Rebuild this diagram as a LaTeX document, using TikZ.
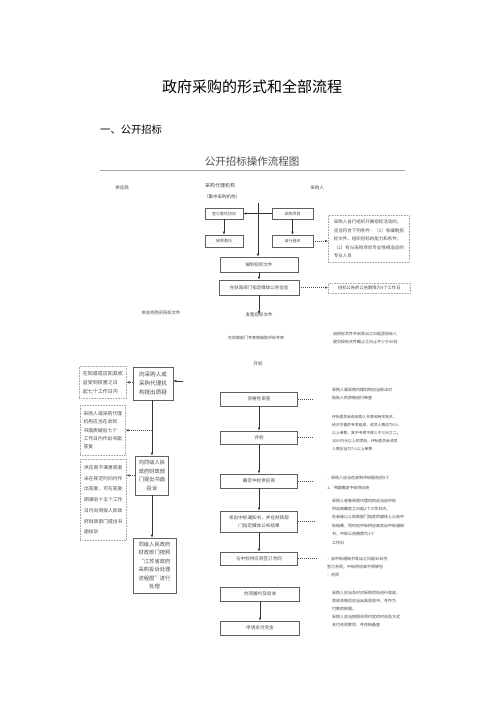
\documentclass[tikz,border=0pt]{standalone}
\usepackage{fontspec}
\setmainfont{Noto Sans CJK SC}
\usetikzlibrary{arrows.meta}
\newcommand{\fsz}[2]{\fontsize{#1}{#2}\selectfont}
\begin{document}
\begin{tikzpicture}[x=1pt,y=-1pt,
  box/.style={draw=gray!75!black, line width=0.7pt, inner sep=0pt, align=center, text=gray!60!black},
  dbox/.style={draw=gray!70, dash pattern=on 0.8pt off 0.8pt, line width=0.6pt, inner sep=2pt, align=left, text=gray!60!black, anchor=north west},
  arr/.style={-{Latex[length=3pt,width=2.6pt]}, line width=0.6pt, draw=black!80},
  darr/.style={-{Latex[length=3pt,width=2.6pt]}, line width=0.5pt, dash pattern=on 1pt off 1pt, draw=gray!60!black},
  dline/.style={line width=0.5pt, dash pattern=on 1pt off 1pt, draw=gray!60!black},
  note/.style={align=left, inner sep=0pt, text=gray!50!black, anchor=north west},
  lbl/.style={inner sep=0pt, text=gray!55!black},
]
\useasboundingbox (0,0) rectangle (500,707);
\fill[white] (0,0) rectangle (500,707);

% titles
\node[inner sep=0pt, font=\fsz{15}{18}] (title) at (252,87) {政府采购的形式和全部流程};
\node[inner sep=0pt, anchor=west, font=\fsz{10.3}{12}] (sec) at (100,130) {一、公开招标};
\node[inner sep=0pt, font=\fsz{10.5}{12}, text=gray!60!black] (sub) at (252,162) {公开招标操作流程图};
\coordinate (la) at (100,170);
\coordinate (lb) at (405,170);
\draw[gray!70, line width=0.6pt] (la) -- (lb);

% column headers
\node[lbl, font=\fsz{4.5}{6}] (h1) at (122,188) {供应商};
\node[lbl, font=\fsz{5}{6}] (h2) at (220,186) {采购代理机构};
\node[lbl, font=\fsz{4.5}{6}] (h2b) at (222,197) {（集中采购机构）};
\node[lbl, font=\fsz{4.5}{6}] (h3) at (317,188) {采购人};

% top boxes
\node[box, font=\fsz{4}{5}, minimum width=38, minimum height=11] (wt) at (224,213.5) {签订委托协议};
\node[box, font=\fsz{4}{5}, minimum width=41, minimum height=11] (xm) at (292.5,213.5) {采购项目};
\node[box, font=\fsz{4}{5}, minimum width=38, minimum height=12] (js) at (224,241) {接受委托};
\node[box, font=\fsz{4}{5}, minimum width=41, minimum height=12] (zx) at (292.5,241) {自行组织};
\node[box, font=\fsz{4.5}{6}, minimum width=78, minimum height=15] (bz) at (259,264.5) {编制招标文件};
\node[box, font=\fsz{4.5}{6}, minimum width=80, minimum height=15] (gg) at (259,287.5) {在财政部门指定媒体公告信息};

\node[dbox, font=\fsz{4.5}{8.5}, minimum width=81, minimum height=47] (d1) at (328,215)
 {采购人自行组织开展招标活动的，\\应当符合下列条件：（1）有编制招\\标文件、组织招标的能力和条件；\\（2）有与采购项目专业性相适应的\\专业人员};
\node[dbox, font=\fsz{4.3}{6}, minimum width=82, minimum height=10, align=left] (d2) at (328,283) {招标公告的公告期限为5个工作日};

\coordinate (vt) at (258,203);
\draw[arr] (xm.west) -- (wt.east);
\draw[arr] (wt.south) -- (js.north);
\draw[arr] (xm.south) -- (zx.north);
\draw[arr] (vt) -- (vt |- bz.north);
\draw[darr] (zx.east) -- (zx.east -| d1.west);
\draw[arr] (bz.south) -- (gg.north);
\draw[darr] (gg.east) -- (gg.east -| d2.west);

% middle texts
\node[lbl, font=\fsz{4.5}{6}] (fs) at (259,315) {发售招标文件};
\draw[arr] (gg.south) -- ([yshift=-1.5pt]fs.north);
\node[lbl, font=\fsz{4.3}{6}] (gm) at (161,313) {供应商购买招标文件};
\node[lbl, font=\fsz{4}{6}] (zj) at (256,338) {在财政部门专家库抽取评标专家};
\node[note, font=\fsz{4}{8}] (n0) at (333,332) {自招标文件开始发出之日起至投标人\\提交投标文件截止之日止不少于20日};
\node[lbl, font=\fsz{4.5}{6}] (kb) at (258,364) {开标};

% left column
\node[dbox, font=\fsz{5}{9}, minimum width=47, minimum height=32] (da) at (79,366)
 {在知道或应知其权\\益受到损害之日\\起七个工作日内};
\node[box, font=\fsz{5.6}{9}, minimum width=40, minimum height=33] (b1) at (153,383.5)
 {向采购人或\\采购代理机\\构提出质疑};
\node[dbox, font=\fsz{4.8}{8.3}, minimum width=45, minimum height=50] (db) at (80,405)
 {采购人或采购代理\\机构应当在收到\\书面质疑后七个\\工作日内作出书面\\答复};
\node[box, font=\fsz{5.3}{8.5}, minimum width=33, minimum height=39] (b3) at (152,475.5)
 {向同级人民\\政府财政部\\门提出书面\\投诉};
\node[dbox, font=\fsz{4.8}{10.7}, minimum width=46, minimum height=81] (dc) at (80,459)
 {供应商不满意或者\\未在规定时间内作\\出答复，可在答复\\期满后十五个工作\\日内向同级人民政\\府财政部门提出书\\面投诉};
\node[box, font=\fsz{5.3}{8.5}, minimum width=43, minimum height=55] (b4) at (154.5,565.5)
 {同级人民政府\\财政部门按照\\“江苏省政府\\采购投诉处理\\流程图”进行\\处理};

\coordinate (in1) at (183,381);
\draw[arr] (in1) -- (in1 -| b1.east);
\draw[darr] (b1.west |- da.east) -- (da.east);
\draw[arr] (b1.south -| b3.north) -- (b3.north);
\draw[darr] (b3.north |- db.east) -- (db.east);
\draw[darr] (b3.west) -- (b3.west -| dc.east);
\draw[arr] (b3.south) -- (b3.south |- b4.north);

% right column
\node[box, font=\fsz{4.6}{6}, minimum width=77, minimum height=14] (r1) at (259,399) {资格性审查};
\node[box, font=\fsz{4.6}{6}, minimum width=77, minimum height=13] (r2) at (259,437.5) {评标};
\node[box, font=\fsz{4.6}{6}, minimum width=77, minimum height=14] (r3) at (259,481) {确定中标供应商};
\node[box, font=\fsz{4.6}{8}, minimum width=77, minimum height=21] (r4) at (259,521.5) {发出中标通知书，并在财政部\\门指定媒体公布结果};
\node[box, font=\fsz{4.6}{6}, minimum width=77, minimum height=13] (r5) at (259,558.5) {与中标供应商签订合同};
\node[box, font=\fsz{4.6}{6}, minimum width=79, minimum height=14] (r6) at (260,594) {合同履约及验收};
\node[box, font=\fsz{4.6}{6}, minimum width=79, minimum height=14] (r7) at (260,628) {申请支付资金};

\draw[arr] (r1.south) -- (r2.north);
\draw[arr] (r2.south) -- (r3.north);
\draw[arr] (r3.south) -- (r4.north);
\draw[arr] (r4.south) -- (r5.north);
\draw[arr] (r6.south) -- (r7.north);

\draw[dline] (r1.east) -- ++(16,0);
\draw[dline] (r2.east) -- ++(16,0);
\draw[dline] (r3.east) -- ++(16,0);
\draw[dline] (r4.east) -- ++(18,0);
\draw[dline] (r5.east) -- ++(20,0);

\node[note, font=\fsz{4}{8}] (n1) at (332,387.5) {采购人或采购代理机构应当依法对\\投标人的资格进行审查};
\node[note, font=\fsz{3.8}{8}] (n2) at (332,415.5) {评标委员会由采购人代表和有关技术、\\经济方面的专家组成，成员人数应为5人\\以上单数，其中专家不得少于三分之二。\\1000万元以上的项目，评标委员会成员\\人数应当为7人以上单数};
\node[note, font=\fsz{4}{10}] (n3) at (327,475.5) {：采购人应当在收到评标报告后5个\\1、书面确定中标供应商};
\node[note, font=\fsz{4}{8.4}] (n4) at (332,498.5) {采购人或者采购代理机构应当自中标\\供应商确定之日起2个工作日内，\\在省级以上财政部门指定的媒体上公告中\\标结果，同时向中标供应商发出中标通知\\书，中标公告期限为1个\\工作日};
\node[note, font=\fsz{4}{8}] (n5) at (327,556.5) {：自中标通知书发出之日起30日内\\签订合同，中标供应商不得转包\\：合同};
\node[note, font=\fsz{4}{8}] (n6) at (332,590.5) {采购人应当及时对采购项目进行验收，\\验收合格后应当出具验收书，并作为\\付款的依据。\\采购人应当按照合同约定的时间及方式\\支付合同款项，并存档备查};
\end{tikzpicture}
\end{document}
